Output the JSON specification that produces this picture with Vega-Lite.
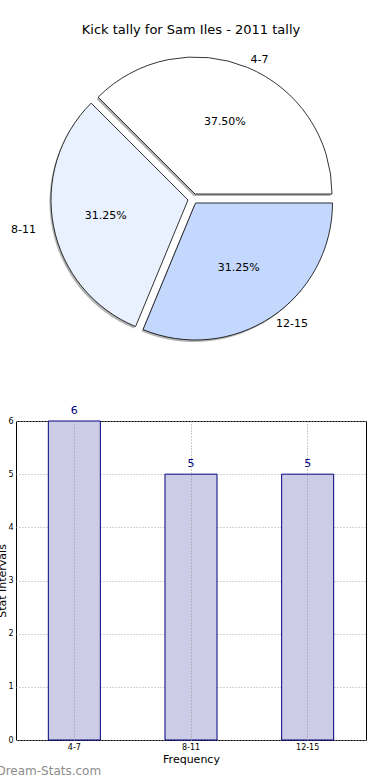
{
  "$schema": "https://vega.github.io/schema/vega-lite/v6.json",
  "padding": {"left": -4, "top": 24, "right": 0, "bottom": 0},
  "config": {"font": "DejaVu Sans", "view": {"stroke": null}},
  "datasets": {
    "kicks": [
      {"range": "4-7", "count": 6, "pct": "37.50%", "i": 1},
      {"range": "8-11", "count": 5, "pct": "31.25%", "i": 2},
      {"range": "12-15", "count": 5, "pct": "31.25%", "i": 3}
    ]
  },
  "title": {"text": "Dream-Stats.com", "orient": "bottom", "anchor": "start", "frame": "bounds", "fontSize": 12, "fontWeight": "normal", "color": "#8c8c8c", "offset": 1},
  "bounds": "flush",
  "spacing": 66,
  "vconcat": [
    {
      "width": 350,
      "height": 314,
      "title": {"text": "Kick tally for Sam Iles - 2011 tally", "fontSize": 13, "fontWeight": "normal", "color": "black", "offset": 4},
      "data": {"name": "kicks"},
      "encoding": {
        "theta": {"field": "count", "type": "quantitative", "stack": true, "scale": {"range": [1.5708, -4.7124]}},
        "order": {"field": "i", "type": "quantitative"}
      },
      "layer": [
        {"mark": {"type": "arc", "radius": 137, "fill": "#7f7f7f", "opacity": 0.6,
          "xOffset": {"expr": "(datum.range == '8-11' ? -3 : datum.range == '4-7' ? 4 : 4.5) - 1.5"},
          "yOffset": {"expr": "(datum.range == '8-11' ? 2 : datum.range == '4-7' ? -4 : 5) + 2"}}},
        {
          "mark": {"type": "arc", "radius": 137, "stroke": "black", "strokeWidth": 0.8,
            "xOffset": {"expr": "datum.range == '8-11' ? -3 : datum.range == '4-7' ? 4 : 4.5"},
            "yOffset": {"expr": "datum.range == '8-11' ? 2 : datum.range == '4-7' ? -4 : 5"}},
          "encoding": {"color": {"field": "range", "type": "nominal", "scale": {"domain": ["4-7", "8-11", "12-15"], "range": ["#ffffff", "#eaf1fe", "#c4d8fd"]}, "legend": null}}
        },
        {"mark": {"type": "text", "fontSize": 11, "color": "black",
          "radius": {"expr": "datum.range == '8-11' ? 84 : 78"},
          "xOffset": {"expr": "datum.range == '8-11' ? -3 : datum.range == '4-7' ? 4 : 4.5"},
          "yOffset": {"expr": "datum.range == '8-11' ? 2 : datum.range == '4-7' ? -4 : 5"}},
          "encoding": {"text": {"field": "pct"}}},
        {"mark": {"type": "text", "fontSize": 11, "color": "black",
          "radius": {"expr": "datum.range == '8-11' ? 155 : 145"},
          "align": {"expr": "datum.range == '8-11' ? 'right' : 'left'"},
          "xOffset": {"expr": "datum.range == '8-11' ? -3 : datum.range == '4-7' ? 4 : 4.5"},
          "yOffset": {"expr": "datum.range == '8-11' ? 2 : datum.range == '4-7' ? -4 : 5"}},
          "encoding": {"text": {"field": "range"}}}
      ]
    },
    {
      "width": 350,
      "height": 319,
      "data": {"name": "kicks"},
      "view": {"stroke": "black", "strokeWidth": 1},
      "encoding": {
        "x": {"field": "range", "type": "nominal", "sort": ["4-7", "8-11", "12-15"], "scale": {"paddingInner": 0, "paddingOuter": 0},
          "axis": {"title": "Frequency", "labelAngle": 0, "labelFontSize": 8, "labelColor": "black", "titleFontSize": 11, "titleFontWeight": "normal", "titleColor": "black", "ticks": false, "domain": false, "grid": true, "gridDash": [1, 2], "gridColor": "#999999", "bandPosition": 0.5, "labelPadding": 3, "titlePadding": 2, "zindex": 1}},
        "y": {"field": "count", "type": "quantitative", "scale": {"domain": [0, 6], "nice": false},
          "axis": {"title": "Stat Intervals", "values": [0, 1, 2, 3, 4, 5, 6], "labelFontSize": 8, "labelColor": "black", "titleFontSize": 11, "titleFontWeight": "normal", "titleColor": "black", "ticks": false, "domain": false, "gridDash": [1, 2], "gridColor": "#aaaaaa", "labelPadding": 3, "titlePadding": 0}}
      },
      "layer": [
        {"mark": {"type": "bar", "width": {"band": 0.446}, "fill": "#ccccE6", "stroke": "#000080", "strokeWidth": 1}},
        {"mark": {"type": "text", "dy": -10, "fontSize": 11, "color": "#000080"}, "encoding": {"text": {"field": "count"}}}
      ]
    }
  ]
}
